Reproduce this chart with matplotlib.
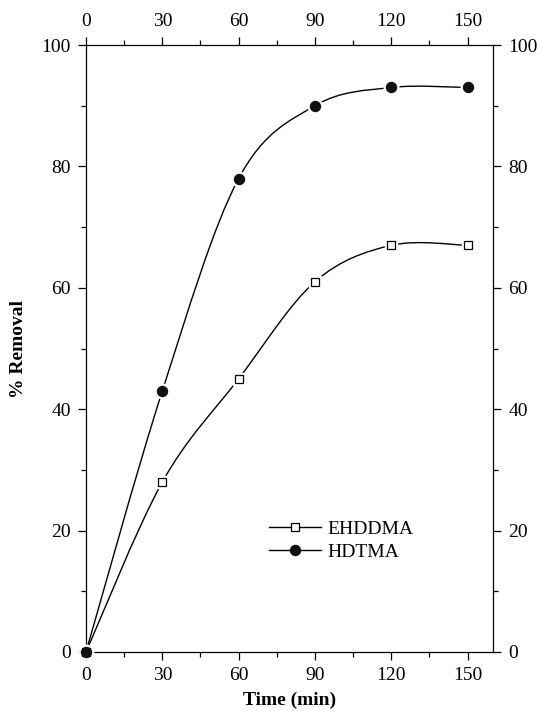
import matplotlib
matplotlib.use("Agg")
import matplotlib.pyplot as plt
import numpy as np
from matplotlib.path import Path
from matplotlib.patches import PathPatch
from matplotlib.lines import Line2D

plt.rcParams['font.family'] = ['Liberation Serif', 'DejaVu Serif']

time = [0, 30, 60, 90, 120, 150]
ehddma = [0, 28, 45, 61, 67, 67]
hdtma = [0, 43, 78, 90, 93, 93]
xticks = [0, 30, 60, 90, 120, 150]
yticks = [0, 20, 40, 60, 80, 100]


def smooth_path(xs, ys):
    pts = np.column_stack([xs, ys]).astype(float)
    n = len(pts)
    verts = [pts[0]]
    codes = [Path.MOVETO]
    for i in range(n - 1):
        p0 = pts[i - 1] if i > 0 else pts[i]
        p1 = pts[i]
        p2 = pts[i + 1]
        p3 = pts[i + 2] if i + 2 < n else pts[i + 1]
        c1 = p1 + (p2 - p0) / 6.0
        c2 = p2 - (p3 - p1) / 6.0
        verts += [c1, c2, p2]
        codes += [Path.CURVE4] * 3
    return Path(verts, codes)


fig = plt.figure(figsize=(5.37, 7.11), dpi=100)
ax = fig.add_axes([86 / 537, 1 - 652 / 711, (493 - 86) / 537, (652 - 45) / 711])

for ys in (ehddma, hdtma):
    ax.add_patch(PathPatch(smooth_path(time, ys), fill=False, edgecolor='black',
                           lw=1.0, zorder=2))

# white halos to create gaps at markers
ax.plot(time, hdtma, ls='none', marker='o', ms=10.5, mfc='white', mec='white', zorder=3, clip_on=False)
ax.plot(time, ehddma, ls='none', marker='s', ms=8.0, mfc='white', mec='white', zorder=3, clip_on=False)
ax.plot(time, ehddma, ls='none', marker='s', ms=5.4, mfc='white', mec='black', mew=0.9, zorder=4, clip_on=False)
ax.plot(time, hdtma, ls='none', marker='o', ms=7.2, mfc='#111111', mec='#111111', zorder=5, clip_on=False)

ax.set_xlim(0, 160)
ax.set_ylim(0, 100)
ax.set_xticks(xticks)
ax.set_yticks(yticks)
ax.set_xticks(np.arange(15, 160, 30), minor=True)
ax.set_yticks(np.arange(10, 100, 20), minor=True)
ax.tick_params(which='both', direction='out', top=True, right=True,
               labeltop=True, labelright=True, labelsize=14, width=0.9)
ax.tick_params(which='major', length=6, pad=5)
ax.tick_params(which='minor', length=3.5)
for s in ax.spines.values():
    s.set_linewidth(0.9)

ax.set_xlabel('Time (min)', fontsize=14, fontweight='bold', labelpad=5)
ax.set_ylabel('% Removal', fontsize=14, fontweight='bold', labelpad=10)

h1 = Line2D([], [], color='black', lw=1.0, marker='s', ms=5.4, mfc='white', mec='black', mew=0.9)
h2 = Line2D([], [], color='black', lw=1.0, marker='o', ms=7.2, mfc='#111111', mec='#111111')
ax.legend([h1, h2], ['EHDDMA', 'HDTMA'], loc='upper left', bbox_to_anchor=(0.4496, 0.217),
          frameon=False, fontsize=14, handlelength=2.7, handletextpad=0.3,
          labelspacing=0.28, borderaxespad=0, borderpad=0)

fig.savefig('out.png', dpi=100)
